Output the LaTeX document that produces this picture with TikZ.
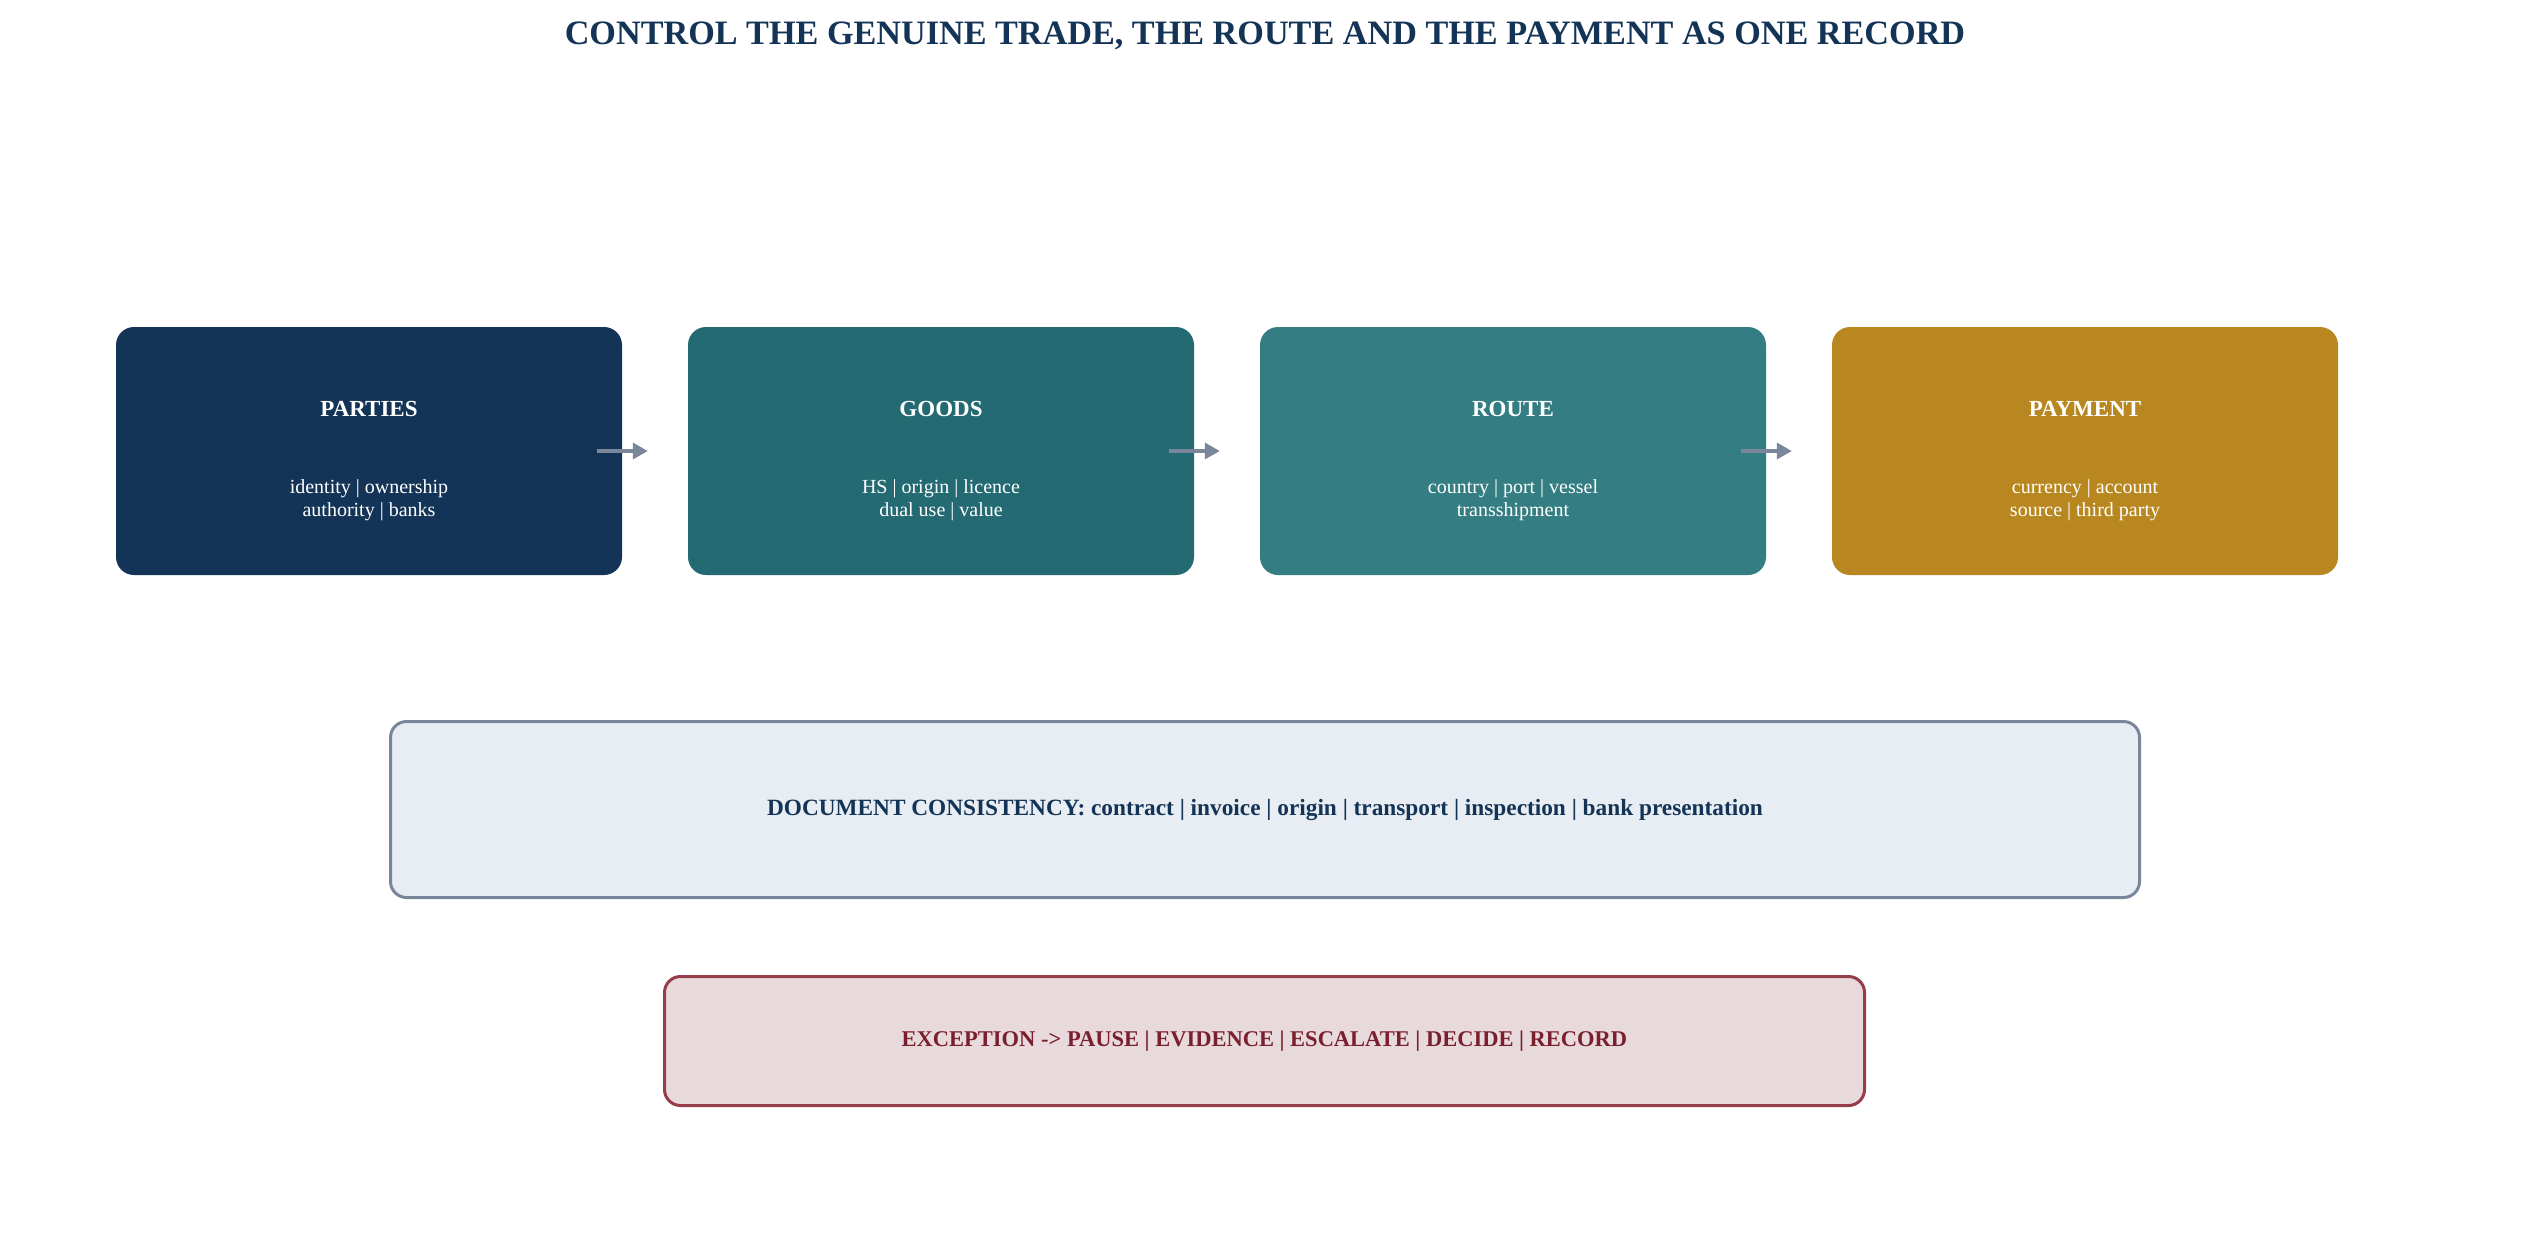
\documentclass[tikz,border=0pt]{standalone}
\usepackage{fontspec}
\setmainfont{Liberation Serif}
\usetikzlibrary{arrows.meta,calc}
\definecolor{cnavy}{HTML}{133456}
\definecolor{cteal}{HTML}{246A73}
\definecolor{cteallt}{HTML}{347D82}
\definecolor{cgold}{HTML}{B88720}
\definecolor{cslate}{HTML}{7A8699}
\definecolor{cdocfill}{HTML}{E8EDF3}
\definecolor{cexcfill}{HTML}{E8D9DC}
\definecolor{cexcline}{HTML}{963D4B}
\definecolor{cexctext}{HTML}{7A1F2E}
\begin{document}
\begin{tikzpicture}[x=1pt,y=-1pt,
  titletext/.style={text=cnavy,font=\fontsize{34.2}{41}\selectfont\bfseries},
  card/.style={rounded corners=18pt,minimum width=506pt,minimum height=248pt,draw=none},
  cardhead/.style={text=white,font=\fontsize{23}{28}\selectfont\bfseries},
  cardsub/.style={text=white,align=center,font=\fontsize{20}{23}\selectfont},
  flow/.style={draw=cslate,line width=3.5pt,-{Triangle[length=15pt,width=16pt]}},
  docbox/.style={rounded corners=16pt,draw=cslate,fill=cdocfill,line width=3pt,minimum width=1749pt,minimum height=176pt,text=cnavy,font=\fontsize{23.3}{28}\selectfont\bfseries},
  excbox/.style={rounded corners=16pt,draw=cexcline,fill=cexcfill,line width=3pt,minimum width=1200pt,minimum height=129pt,text=cexctext,font=\fontsize{22.5}{27}\selectfont\bfseries}
]
\useasboundingbox[fill=white] (0,0) rectangle (2530,1254);
\node[titletext] (title) at (1265,36) {CONTROL THE GENUINE TRADE, THE ROUTE AND THE PAYMENT AS ONE RECORD};

\node[card,fill=cnavy]   (parties) at (369,451) {};
\node[card,fill=cteal]   (goods)   at (941,451) {};
\node[card,fill=cteallt] (route)   at (1513,451) {};
\node[card,fill=cgold]   (payment) at (2085,451) {};

\node[cardhead] (partiesh) at ($(parties.center)+(0,-42)$) {PARTIES};
\node[cardhead] (goodsh)   at ($(goods.center)+(0,-42)$) {GOODS};
\node[cardhead] (routeh)   at ($(route.center)+(0,-42)$) {ROUTE};
\node[cardhead] (paymenth) at ($(payment.center)+(0,-42)$) {PAYMENT};

\node[cardsub] (partiess) at ($(parties.center)+(0,49)$) {identity | ownership\\authority | banks};
\node[cardsub] (goodss)   at ($(goods.center)+(0,49)$) {HS | origin | licence\\dual use | value};
\node[cardsub] (routes)   at ($(route.center)+(0,49)$) {country | port | vessel\\transshipment};
\node[cardsub] (payments) at ($(payment.center)+(0,49)$) {currency | account\\source | third party};

\draw[flow] ($(parties.east)+(-25,0)$) -- ($(goods.west)+(-40,0)$);
\draw[flow] ($(goods.east)+(-25,0)$) -- ($(route.west)+(-40,0)$);
\draw[flow] ($(route.east)+(-25,0)$) -- ($(payment.west)+(-40,0)$);

\node[docbox] (doc) at (1265,809.5) {DOCUMENT CONSISTENCY: contract | invoice | origin | transport | inspection | bank presentation};
\node[excbox] (exc) at (1264.5,1041) {EXCEPTION -> PAUSE | EVIDENCE | ESCALATE | DECIDE | RECORD};
\end{tikzpicture}
\end{document}
